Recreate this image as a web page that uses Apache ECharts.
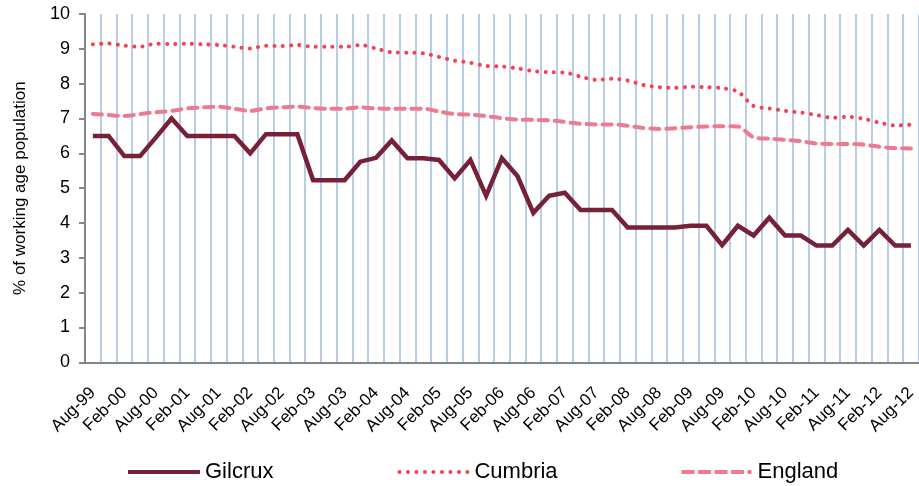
<!DOCTYPE html>
<html>
<head>
<meta charset="utf-8">
<script src="https://cdn.jsdelivr.net/npm/echarts@6/dist/echarts.min.js"></script>
<style>
	html, body { margin: 0; padding: 0; background: #fff; }
	#chart { width: 919px; height: 486px; }
</style>
</head>
<body>
<div id="chart"></div>
<script>
// quarterly, Aug-99 .. Aug-12 (every other label shown)
const quarters = [
	'Aug-99', 'Nov-99', 'Feb-00', 'May-00', 'Aug-00', 'Nov-00', 'Feb-01', 'May-01',
	'Aug-01', 'Nov-01', 'Feb-02', 'May-02', 'Aug-02', 'Nov-02', 'Feb-03', 'May-03',
	'Aug-03', 'Nov-03', 'Feb-04', 'May-04', 'Aug-04', 'Nov-04', 'Feb-05', 'May-05',
	'Aug-05', 'Nov-05', 'Feb-06', 'May-06', 'Aug-06', 'Nov-06', 'Feb-07', 'May-07',
	'Aug-07', 'Nov-07', 'Feb-08', 'May-08', 'Aug-08', 'Nov-08', 'Feb-09', 'May-09',
	'Aug-09', 'Nov-09', 'Feb-10', 'May-10', 'Aug-10', 'Nov-10', 'Feb-11', 'May-11',
	'Aug-11', 'Nov-11', 'Feb-12', 'May-12', 'Aug-12'
];

const gilcrux = [
	6.5, 6.5, 5.92, 5.92, 6.45, 7.0, 6.5, 6.5, 6.5, 6.5,
	6.0, 6.55, 6.55, 6.55, 5.23, 5.23, 5.23, 5.76, 5.87, 6.37,
	5.86, 5.86, 5.81, 5.28, 5.81, 4.78, 5.86, 5.34, 4.29, 4.78,
	4.87, 4.37, 4.37, 4.37, 3.87, 3.87, 3.87, 3.87, 3.92, 3.92,
	3.36, 3.92, 3.64, 4.15, 3.64, 3.64, 3.35, 3.35, 3.8, 3.35,
	3.8, 3.35, 3.35
];

const cumbria = [
	9.13, 9.15, 9.09, 9.06, 9.15, 9.14, 9.15, 9.13, 9.11, 9.06,
	9.01, 9.09, 9.08, 9.11, 9.06, 9.06, 9.06, 9.11, 9.01, 8.9,
	8.89, 8.87, 8.77, 8.66, 8.6, 8.51, 8.49, 8.44, 8.36, 8.33,
	8.32, 8.2, 8.11, 8.14, 8.09, 7.96, 7.9, 7.88, 7.91, 7.9,
	7.87, 7.77, 7.36, 7.29, 7.22, 7.17, 7.1, 7.02, 7.05, 6.99,
	6.88, 6.8, 6.82
];

const england = [
	7.13, 7.1, 7.07, 7.13, 7.18, 7.22, 7.29, 7.32, 7.34, 7.28,
	7.22, 7.29, 7.32, 7.34, 7.3, 7.28, 7.28, 7.32, 7.29, 7.28,
	7.28, 7.28, 7.2, 7.13, 7.11, 7.07, 7.01, 6.97, 6.96, 6.95,
	6.9, 6.85, 6.83, 6.83, 6.79, 6.73, 6.7, 6.72, 6.75, 6.77,
	6.78, 6.77, 6.46, 6.42, 6.39, 6.35, 6.28, 6.27, 6.27, 6.25,
	6.19, 6.15, 6.14
];

const font = 'Liberation Sans, Arial, sans-serif';
const axisGrey = '#868686';
const colors = { gilcrux: '#76203A', cumbria: '#FA3F4E', england: '#EF7A8E' };

// legend icons drawn as paths so they look like the excel line samples
function dotsIcon() {
	let p = 'path://';
	for (let k = 0; k < 9; k++) {
		const x = k * 8.5;
		p += 'M' + x + ',2a2,2 0 1,0 4,0a2,2 0 1,0 -4,0Z';
	}
	return p;
}
function dashIcon() {
	let p = 'path://';
	for (let k = 0; k < 4; k++) {
		const x = k * 16.5;
		p += 'M' + x + ',0h13v4h-13Z';
	}
	p += 'M66,0h4v4h-4Z';
	return p;
}

const chart = echarts.init(document.getElementById('chart'));

const options = {
	animation: false,
	textStyle: { fontFamily: font },
	grid: {
		left: 85,
		top: 14,
		width: 836.5,
		height: 348.3
	},
	legend: {
		left: 123,
		top: 456,
		itemWidth: 72,
		itemHeight: 4,
		itemGap: 124,
		textStyle: { fontSize: 22, color: '#000', fontFamily: font },
		data: [
			{ name: 'Gilcrux', icon: 'path://M0,0H72V4H0Z', itemStyle: { color: colors.gilcrux } },
			{ name: 'Cumbria', icon: dotsIcon(), itemStyle: { color: colors.cumbria } },
			{ name: 'England', icon: dashIcon(), itemStyle: { color: colors.england } }
		]
	},
	xAxis: {
		type: 'category',
		data: quarters,
		boundaryGap: true,
		axisLine: { lineStyle: { color: axisGrey, width: 2 } },
		axisTick: { interval: 0, length: 6, lineStyle: { color: axisGrey, width: 2 } },
		axisLabel: {
			interval: 1,
			rotate: 45,
			margin: 28,
			fontSize: 17,
			color: '#000',
			fontFamily: font
		},
		splitLine: {
			show: true,
			interval: 0,
			lineStyle: { color: '#B9CDE5', width: 2 }
		}
	},
	yAxis: {
		type: 'value',
		min: 0,
		max: 10,
		interval: 1,
		name: '% of working age population',
		nameLocation: 'middle',
		nameGap: 56,
		nameTextStyle: { fontSize: 17, color: '#000', fontFamily: font },
		axisLine: { show: true, lineStyle: { color: axisGrey, width: 2 } },
		axisTick: { show: true, length: 6, lineStyle: { color: axisGrey, width: 2 } },
		axisLabel: { margin: 15, fontSize: 18, color: '#000', fontFamily: font },
		splitLine: { show: false }
	},
	series: [
		{
			name: 'Gilcrux',
			type: 'line',
			data: gilcrux,
			symbol: 'none',
			z: 4,
			itemStyle: { color: colors.gilcrux },
			lineStyle: { color: colors.gilcrux, width: 4.5, join: 'miter' }
		},
		{
			name: 'Cumbria',
			type: 'line',
			data: cumbria,
			symbol: 'none',
			smooth: 0.3,
			z: 3,
			itemStyle: { color: colors.cumbria },
			lineStyle: { color: colors.cumbria, width: 4, type: [0.1, 8.2], cap: 'round' }
		},
		{
			name: 'England',
			type: 'line',
			data: england,
			symbol: 'none',
			smooth: 0.3,
			z: 3,
			itemStyle: { color: colors.england },
			lineStyle: { color: colors.england, width: 4, type: [9, 7], cap: 'round' }
		}
	]
};

chart.setOption(options);
</script>
</body>
</html>
